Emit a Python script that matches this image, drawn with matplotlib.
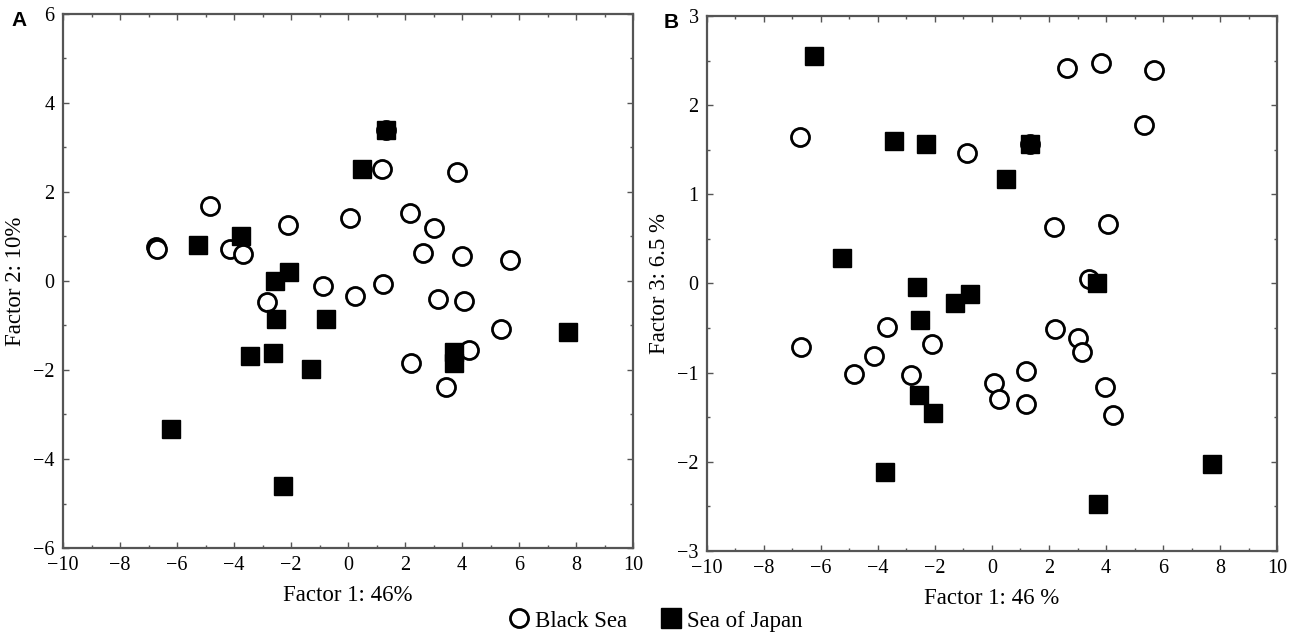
import matplotlib
matplotlib.use("Agg")
from matplotlib import pyplot as plt
from matplotlib.ticker import MultipleLocator
from matplotlib.lines import Line2D

# Factor scores, Black Sea
black_f1 = [-6.75, -6.71, -4.85, -4.14, -3.70, -2.85, -2.12, -0.88, 0.06, 0.25,
            1.20, 1.21, 1.34, 2.19, 2.20, 2.62, 3.02, 3.16, 3.42, 3.83,
            3.98, 4.08, 4.26, 5.35, 5.68]
black_f2 = [0.76, 0.72, 1.69, 0.73, 0.61, -0.48, 1.26, -0.11, 1.41, -0.34,
            2.52, -0.07, 3.39, 1.53, -1.84, 0.62, 1.20, -0.40, -2.39, 2.44,
            0.56, -0.46, -1.54, -1.08, 0.47]
black_f3 = [1.64, -0.71, -1.01, -0.81, -0.49, -1.03, -0.68, 1.46, -1.12, -1.29,
            -0.98, -1.35, 1.56, 0.63, -0.51, 2.42, -0.61, -0.77, 0.05, 2.47,
            -1.16, 0.67, -1.47, 1.78, 2.40]

# Factor scores, Sea of Japan
japan_f1 = [-6.23, -5.25, -3.76, -3.45, -2.62, -2.57, -2.54, -2.30, -2.07, -1.30,
            -0.76, 0.48, 1.34, 3.70, 3.71, 7.71]
japan_f2 = [-3.33, 0.81, 1.01, -1.69, -1.61, 0.00, -0.85, -4.61, 0.21, -1.98,
            -0.85, 2.51, 3.39, -1.59, -1.85, -1.15]
japan_f3 = [2.55, 0.29, -2.11, 1.60, -0.04, -1.25, -0.41, 1.56, -1.45, -0.22,
            -0.12, 1.17, 1.56, 0.01, -2.47, -2.02]

plt.rcParams['font.family'] = ['Liberation Serif', 'DejaVu Serif']

fig = plt.figure(figsize=(12.92, 6.35), dpi=100)
axA = fig.add_axes([0.0488, 0.137, 0.4412, 0.841])
axB = fig.add_axes([0.5472, 0.1323, 0.4412, 0.8425])

spine_col = '#555555'


def style_axes(ax, ymaj, ymin):
    ax.set_xlim(-10, 10)
    ax.xaxis.set_major_locator(MultipleLocator(2))
    ax.xaxis.set_minor_locator(MultipleLocator(1))
    ax.yaxis.set_major_locator(MultipleLocator(ymaj))
    ax.yaxis.set_minor_locator(MultipleLocator(ymin))
    ax.tick_params(which='both', direction='in', top=True, right=True,
                   color=spine_col, labelsize=14.5, width=1)
    ax.tick_params(which='major', length=4, pad=6)
    ax.tick_params(which='minor', length=2.5)
    for s in ax.spines.values():
        s.set_color(spine_col)
        s.set_linewidth(1.6)


def draw(ax, yb, yj):
    ax.plot(black_f1, yb, 'o', ms=13, mfc='white', mec='black', mew=2, ls='none', zorder=3)
    ax.plot(japan_f1, yj, 's', ms=12.5, mfc='black', mec='black', ls='none', zorder=4)


draw(axA, black_f2, japan_f2)
style_axes(axA, 2, 1)
axA.set_ylim(-6, 6)
axA.set_xlabel('Factor 1: 46%', fontsize=16.5, labelpad=7)
axA.set_ylabel('Factor 2: 10%', fontsize=16.5, labelpad=5)

draw(axB, black_f3, japan_f3)
style_axes(axB, 1, 0.5)
axB.set_ylim(-3, 3)
axB.set_xlabel('Factor 1: 46 %', fontsize=16.5, labelpad=7)
axB.set_ylabel('Factor 3: 6.5 %', fontsize=16.5, labelpad=5)

fig.text(19 / 1292, 1 - 21 / 635, 'A', family='Liberation Sans', weight='bold',
         fontsize=15, ha='center', va='center')
fig.text(671 / 1292, 1 - 22 / 635, 'B', family='Liberation Sans', weight='bold',
         fontsize=15, ha='center', va='center')

handles = [Line2D([], [], marker='o', ls='none', ms=13, mfc='white', mec='black', mew=2),
           Line2D([], [], marker='s', ls='none', ms=14, mfc='black', mec='black')]
fig.legend(handles, ['Black Sea', 'Sea of Japan'], loc='center', ncol=2,
           bbox_to_anchor=(655 / 1292, 1 - 621 / 635), frameon=False,
           fontsize=16.5, handletextpad=0.2, columnspacing=1.4, handlelength=1.0,
           borderaxespad=0, borderpad=0)

fig.savefig('out.png', dpi=100)
